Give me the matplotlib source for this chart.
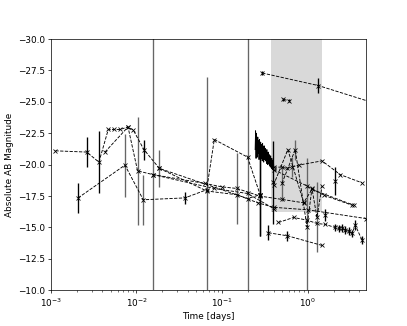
import matplotlib
matplotlib.use("Agg")
import numpy as np
import matplotlib.pyplot as plt

# light curves - time [days] vs absolute AB mag, err = 1 sigma
# ec: 1 = black error bar, 0 = grey error bar
s1_t = [0.294, 1.33, 6.0]
s1_m = [-27.3, -26.3, -24.9]
s1_e = [0.15, 0.6, 0.0]
s1_ec = [1, 1, 1]

s2_t = [0.52, 0.60]
s2_m = [-25.2, -25.1]
s2_e = [0.1, 0.1]
s2_ec = [1, 1]

s3_t = [1.13e-3, 2.62e-3, 3.64e-3, 4.68e-3, 5.46e-3, 6.41e-3, 7.96e-3, 9.18e-3, 1.22e-2, 1.85e-2, 0.198, 0.278]
s3_m = [-21.1, -21.0, -20.2, -22.8, -22.8, -22.8, -23.0, -22.75, -21.2, -19.7, -17.3, -17.6]
s3_e = [0.0, 1.2, 2.5, 0.0, 0.0, 0.0, 0.0, 0.0, 0.8, 1.5, 0.0, 0.0]
s3_ec = [1, 1, 1, 1, 1, 1, 1, 1, 1, 0, 1, 1]

s4_t = [4.28e-3, 7.96e-3, 1.03e-2, 1.57e-2, 0.081, 0.198, 0.40]
s4_m = [-21.0, -23.0, -19.5, -19.2, -18.1, -17.7, -16.5]
s4_e = [0.0, 0.0, 4.3, 15.0, 0.0, 0.0, 0.0]
s4_ec = [0, 0, 0, 0, 0, 0, 0]

s5_t = [2.08e-3, 7.33e-3, 1.2e-2, 3.69e-2, 0.066, 0.081, 0.198, 0.278]
s5_m = [-17.35, -19.96, -17.2, -17.35, -18.0, -22.0, -20.6, -17.6]
s5_e = [1.2, 2.5, 2.0, 0.5, 9.0, 0.0, 15.0, 3.3]
s5_ec = [1, 0, 0, 1, 0, 1, 0, 1]

# fast cadence bit (one instrument, lots of points)
s6_t = [0.243, 0.246, 0.249, 0.252, 0.255, 0.258, 0.261, 0.264, 0.267, 0.270,
        0.273, 0.276, 0.279, 0.282, 0.285, 0.288, 0.291, 0.294, 0.297, 0.300,
        0.303, 0.306, 0.309, 0.312, 0.315, 0.318, 0.321, 0.324, 0.327, 0.330,
        0.333, 0.336, 0.339, 0.342, 0.345, 0.348, 0.351, 0.354, 0.357, 0.360,
        0.363, 0.366, 0.369, 0.372, 0.375, 0.378, 0.381, 0.384, 0.387, 0.390,
        0.393, 0.396, 0.399, 0.402]
s6_m = [-21.2, -22.7, -20.5, -22.5, -21.4, -20.6, -22.2, -20.9, -21.9, -20.4,
        -22.0, -21.1, -20.7, -21.8, -20.5, -21.6, -21.0, -20.3, -21.7, -20.6,
        -21.4, -20.2, -21.5, -20.8, -20.4, -21.3, -20.3, -21.0, -20.6, -20.1,
        -21.2, -20.4, -20.9, -20.0, -21.0, -20.5, -20.1, -20.8, -19.9, -20.6,
        -20.2, -19.8, -20.7, -20.0, -20.4, -19.7, -20.5, -19.9, -20.3, -19.6,
        -20.2, -19.8, -20.1, -19.7]
s6_e = [0.0] * len(s6_t)
s6_ec = [1] * len(s6_t)

s7_t = [0.40, 0.50, 0.57, 0.65, 0.78, 1.47, 2.40, 4.31]
s7_m = [-19.8, -19.8, -19.7, -19.8, -19.96, -20.3, -19.2, -18.55]
s7_e = [0.0, 0.0, 0.0, 0.8, 0.0, 0.0, 0.0, 0.0]
s7_ec = [0, 0, 0, 0, 0, 0, 0, 0]

s8_t = [0.40, 0.586, 0.893]
s8_m = [-18.4, -21.2, -17.0]
s8_e = [0.0, 0.0, 0.0]
s8_ec = [0, 0, 0]

s9_t = [0.50, 0.714, 0.98, 1.12, 1.28, 1.47]
s9_m = [-18.5, -21.2, -15.05, -18.1, -15.8, -18.3]
s9_e = [1.4, 0.8, 5.5, 0.0, 2.8, 0.0]
s9_ec = [0, 0, 0, 0, 0, 0]

s10_t = [0.455, 0.682, 0.979, 1.28, 1.60, 2.06, 2.29, 2.5, 2.75, 3.0, 3.29, 3.59, 4.31]
s10_m = [-15.39, -15.79, -15.58, -15.31, -15.24, -15.0, -14.92, -14.95, -14.78, -14.7, -14.52, -15.18, -13.98]
s10_e = [0.0, 0.0, 0.0, 0.0, 0.0, 0.3, 0.3, 0.3, 0.3, 0.3, 0.3, 0.4, 0.3]
s10_ec = [1] * 13

s11_t = [0.348, 0.58, 1.47]
s11_m = [-14.57, -14.33, -13.56]
s11_e = [0.6, 0.4, 0.0]
s11_ec = [1, 1, 1]

s12_t = [0.40, 0.98, 1.53, 3.29]
s12_m = [-19.6, -18.3, -17.57, -16.77]
s12_e = [0.0, 0.0, 0.0, 0.0]
s12_ec = [0, 0, 0, 0]

s13_t = [1.57e-2, 0.0633, 0.099, 0.149, 0.278, 0.499, 0.893, 1.12, 3.43]
s13_m = [-19.2, -18.5, -18.23, -18.1, -17.49, -17.23, -16.96, -18.02, -16.77]
s13_e = [0.0, 0.0, 0.0, 2.8, 0.0, 0.0, 0.0, 0.0, 0.0]
s13_ec = [0, 0, 0, 0, 0, 0, 0, 0, 0]

s14_t = [1.85e-2, 0.066, 0.149, 0.26, 0.40, 1.0, 4.83]
s14_m = [-19.7, -17.9, -17.6, -16.96, -16.6, -16.4, -15.7]
s14_e = [0.0, 0.0, 0.0, 0.0, 0.0, 0.0, 0.0]
s14_ec = [0, 0, 0, 0, 0, 0, 0]

# isolated points, no line
s15_t = [1.6, 2.06]
s15_m = [-16.0, -18.7]
s15_e = [0.5, 1.1]
s15_ec = [1, 1]

# big uncertainty black bars in the fast cadence window
s16_t = [0.278, 0.39]
s16_m = [-17.6, -18.6]
s16_e = [3.3, 3.3]
s16_ec = [1, 1]

# window that was shaded in the paper
span_t = [0.374, 1.466]
span_m = [-30.0, -16.2]

series = [
    (s1_t, s1_m, s1_e, s1_ec, "x--"),
    (s2_t, s2_m, s2_e, s2_ec, "x--"),
    (s3_t, s3_m, s3_e, s3_ec, "x--"),
    (s4_t, s4_m, s4_e, s4_ec, "x--"),
    (s5_t, s5_m, s5_e, s5_ec, "x--"),
    (s6_t, s6_m, s6_e, s6_ec, "-"),
    (s7_t, s7_m, s7_e, s7_ec, "x--"),
    (s8_t, s8_m, s8_e, s8_ec, "x--"),
    (s9_t, s9_m, s9_e, s9_ec, "x--"),
    (s10_t, s10_m, s10_e, s10_ec, "x--"),
    (s11_t, s11_m, s11_e, s11_ec, "x--"),
    (s12_t, s12_m, s12_e, s12_ec, "x--"),
    (s13_t, s13_m, s13_e, s13_ec, "x--"),
    (s14_t, s14_m, s14_e, s14_ec, "x--"),
    (s15_t, s15_m, s15_e, s15_ec, "x"),
    (s16_t, s16_m, s16_e, s16_ec, "x"),
]

fig, ax = plt.subplots(figsize=(407 / 64, 326 / 64), dpi=64)

ax.fill_between(span_t, span_m[0], span_m[1], color="0.85", lw=0, zorder=0)

for t, m, e, ec, fmt in series:
    t = np.array(t)
    m = np.array(m)
    e = np.array(e)
    cols = ["k" if c else "0.4" for c in ec]
    ax.vlines(t, m - e, m + e, colors=cols, lw=1.5, zorder=1)
    ax.plot(t, m, fmt, color="k", ms=3.5, mew=0.9, lw=1.0, zorder=2)

ax.set_xscale("log")
ax.set_xlim(1e-3, 4.83)
ax.set_ylim(-10, -30)
ax.set_xlabel("Time [days]")
ax.set_ylabel("Absolute AB Magnitude")

fig.savefig("out.png", dpi=64)
